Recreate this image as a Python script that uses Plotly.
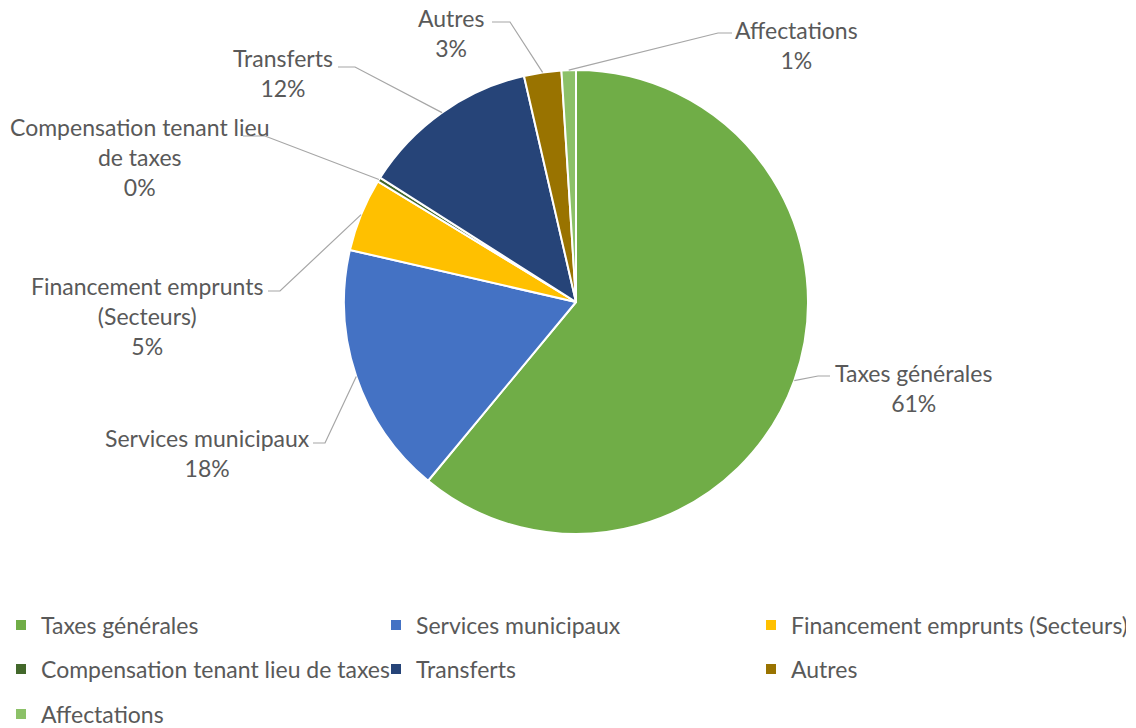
import math
import textwrap
import plotly.graph_objects as go

# ---------------- data ----------------
labels = ["Taxes générales", "Services municipaux", "Financement emprunts (Secteurs)",
          "Compensation tenant lieu de taxes", "Transferts", "Autres", "Affectations"]
values = [61.0, 17.6, 5.1, 0.3, 12.4, 2.6, 1.0]
colors = ["#70AD47", "#4472C4", "#FFC000", "#43682B", "#264478", "#997300", "#8CC168"]

# ---------------- layout / style ----------------
W, H = 1136, 728
CX, CY, R = 576, 302, 232          # pie centre and radius in px
FONT = "Lato"
TXT = "#595959"
FS = 23
LINE = "#A6A6A6"

# per-label placement (px): label centre x, centre y, elbow x, elbow y, end x
label_layout = [
    (913, 388, 818, 376, 830),
    (207, 453, 325, 443, 313),
    (147, 316, 280, 291, 268),
    (139, 157, 265, 136, 243),
    (283, 73, 355, 67, 338),
    (451, 33, 510, 22, 492),
    (796, 45, 718, 33, 732),
]
legend_rows = [0, 0, 0, 1, 1, 1, 2]
legend_row_y = [625, 669, 714]


def px(x):
    return x / W


def py(y):
    return 1 - y / H


fig = go.Figure()
fig.add_trace(go.Pie(
    labels=labels, values=values, sort=False, direction="clockwise", rotation=0,
    marker=dict(colors=colors, line=dict(color="white", width=2)),
    textinfo="none", showlegend=False,
    domain=dict(x=[px(CX - R), px(CX + R)], y=[py(CY + R), py(CY - R)]),
))

# legend entries (one legend per row)
legend_names = ["legend", "legend2", "legend3"]
for lab, col, row in zip(labels, colors, legend_rows):
    fig.add_trace(go.Scatter(
        x=[None], y=[None], mode="markers", name=lab,
        marker=dict(symbol="square", size=10, color=col),
        legend=legend_names[row], showlegend=True, hoverinfo="skip",
    ))

# data labels and leader lines
total = sum(values)
cum = 0.0
annotations = []
shapes = []
for lab, v, lay in zip(labels, values, label_layout):
    mid = (cum + v / 2) / total
    cum += v
    th = 2 * math.pi * mid
    sx = CX + R * math.sin(th)
    sy = CY - R * math.cos(th)
    lx, ly, ex, ey, endx = lay
    pct = round(v / total * 100)
    text = "<br>".join(textwrap.wrap(lab, 24)) + f"<br>{pct}%"
    annotations.append(dict(
        x=px(lx), y=py(ly), xref="paper", yref="paper", text=text, showarrow=False,
        xanchor="center", yanchor="middle", align="center",
        font=dict(family=FONT, size=FS, color=TXT),
    ))
    shapes.append(dict(
        type="path", xref="paper", yref="paper",
        path=f"M {px(sx)},{py(sy)} L {px(ex)},{py(ey)} L {px(endx)},{py(ey)}",
        line=dict(color=LINE, width=1.2),
    ))

legend_common = dict(
    orientation="h", xanchor="left", yanchor="middle", x=px(1),
    xref="container", yref="container",
    entrywidthmode="pixels", entrywidth=330,
    font=dict(family=FONT, size=FS, color=TXT), bgcolor="rgba(0,0,0,0)",
)

fig.update_layout(
    width=W, height=H,
    margin=dict(l=0, r=0, t=0, b=0, autoexpand=False),
    paper_bgcolor="white", plot_bgcolor="white",
    font=dict(family=FONT, size=FS, color=TXT),
    xaxis=dict(visible=False), yaxis=dict(visible=False),
    annotations=annotations, shapes=shapes,
    legend=dict(**legend_common, y=py(legend_row_y[0])),
    legend2=dict(**legend_common, y=py(legend_row_y[1])),
    legend3=dict(**legend_common, y=py(legend_row_y[2])),
)

fig.write_html(
    "out.html",
    config={"displayModeBar": False},
    post_script="document.body.style.margin='0';document.body.style.overflow='hidden';",
)
